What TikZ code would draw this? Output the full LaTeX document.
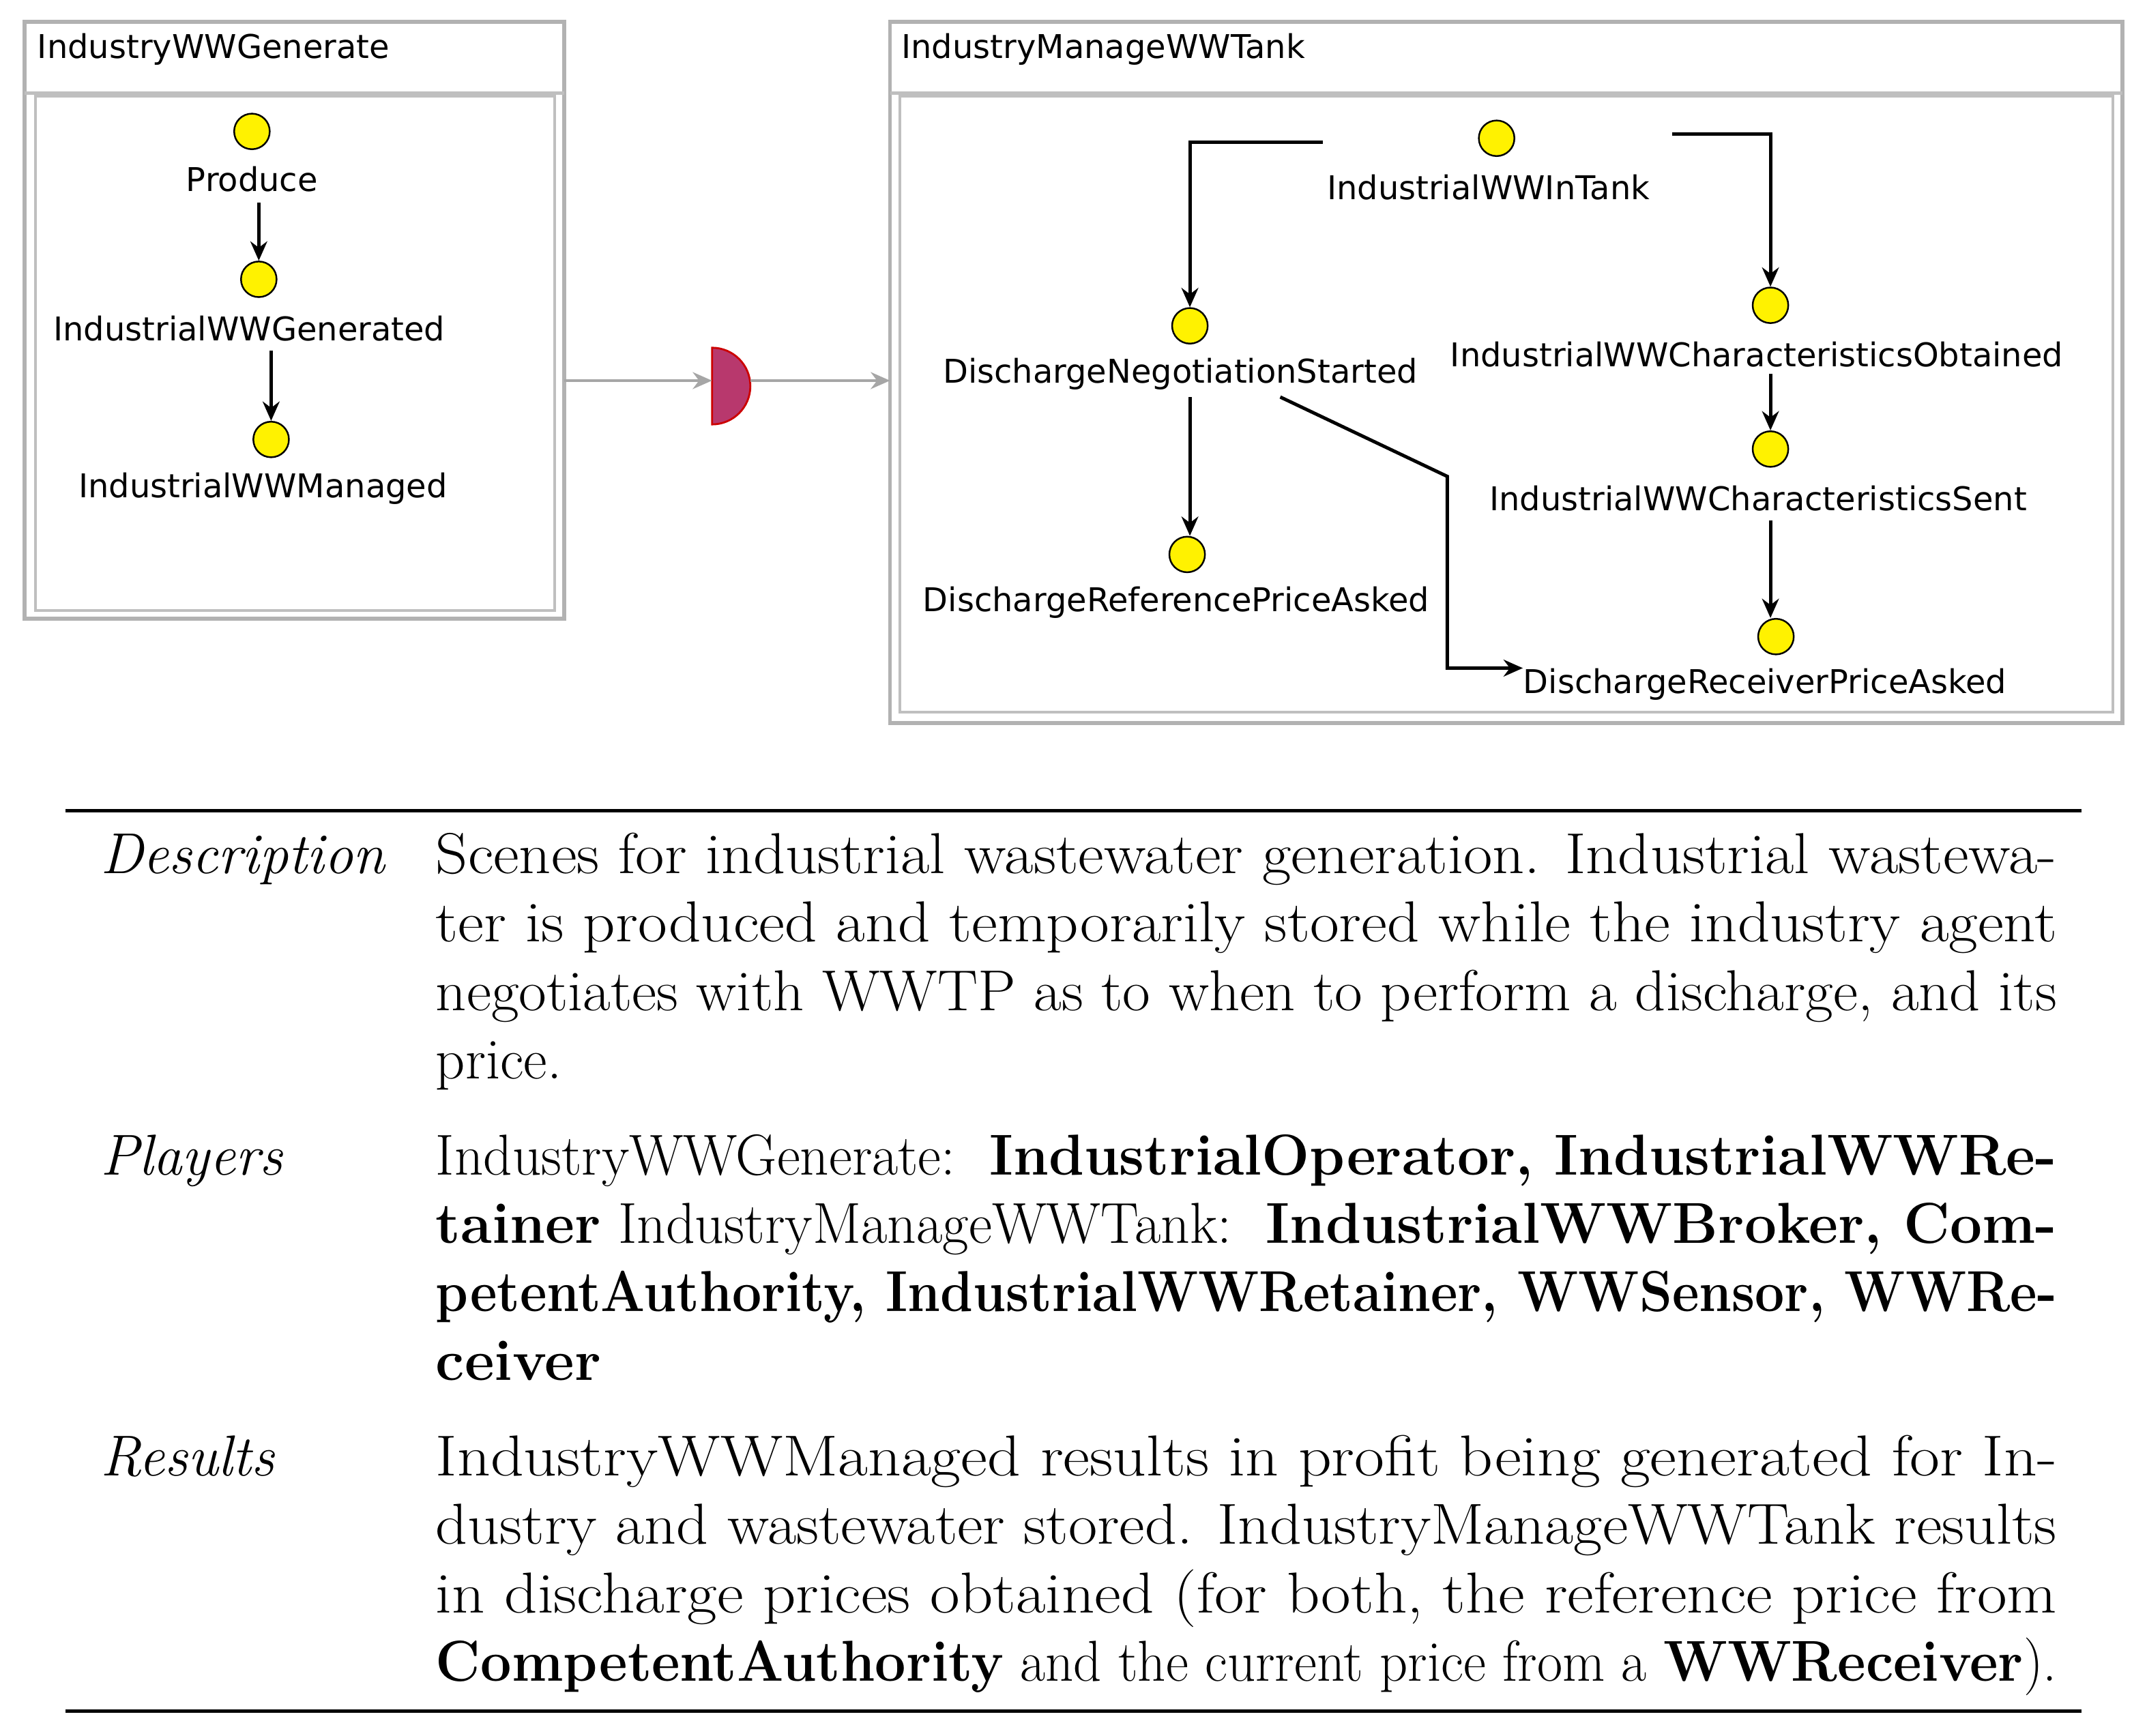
\documentclass[tikz,border=0pt]{standalone}
\usepackage{fontspec}
\usepackage{graphicx}
\newfontfamily\diag{DejaVu Sans}
\usetikzlibrary{arrows.meta}
\begin{document}
\begin{tikzpicture}[x=0.02cm,y=-0.02cm,
 box/.style={draw=black!30,line width=1.6pt},
 ibox/.style={draw=black!25,line width=1.2pt},
 st/.style={circle,draw=black,fill=yellow,minimum size=0.52cm,inner sep=0pt,line width=0.7pt},
 lb/.style={font=\diag\fontsize{13.6}{15}\selectfont,inner sep=0pt},
 ar/.style={-{Stealth[length=8pt,width=7pt]},line width=1.4pt},
 ga/.style={-{Stealth[length=8pt,width=7pt]},draw=black!35,line width=1.3pt},
 tx/.style={anchor=base west,inner sep=0pt,font=\fontsize{24}{28}\selectfont},
 hd/.style={anchor=base west,inner sep=0pt,font=\fontsize{24}{28}\selectfont\itshape}]
\useasboundingbox (0,0) rectangle (1568,1268);
% left box
\draw[box] (18,16) rectangle (412,452);
\draw[ibox] (18,68) -- (412,68);
\draw[ibox] (26,70) rectangle (405,446);
\node[lb,anchor=west] at (27,36) {IndustryWWGenerate};
\node[st] (p) at (184,96) {};
\node[lb] (pl) at (184,131) {Produce};
\node[st] (g) at (189,204) {};
\node[lb] (gl) at (182,240) {IndustrialWWGenerated};
\node[st] (m) at (198,321) {};
\node[lb] (ml) at (192,357) {IndustrialWWManaged};
\coordinate (a1) at (189,148); \coordinate (a2) at (198,256);
\draw[ar] (a1) -- (a1|-g.north);
\draw[ar] (a2) -- (a2|-m.north);
% right box
\draw[box] (650,16) rectangle (1550,528);
\draw[ibox] (650,68) -- (1550,68);
\draw[ibox] (657,70) rectangle (1543,520);
\node[lb,anchor=west] at (658,36) {IndustryManageWWTank};
\node[st] (t) at (1093,101) {};
\node[lb] (tl) at (1087,137) {IndustrialWWInTank};
\node[st] (n) at (869,238) {};
\node[lb] (nl) at (862,273) {DischargeNegotiationStarted};
\node[st] (o) at (1293,223) {};
\node[lb] (ol) at (1283,259) {IndustrialWWCharacteristicsObtained};
\node[st] (s) at (1293,328) {};
\node[lb] (sl) at (1284,364) {IndustrialWWCharacteristicsSent};
\node[st] (r) at (867,405) {};
\node[lb] (rl) at (859,440) {DischargeReferencePriceAsked};
\node[st] (v) at (1297,465) {};
\node[lb] (vl) at (1289,500) {DischargeReceiverPriceAsked};
\coordinate (c1) at (966,104); \coordinate (c2) at (1221,98);
\coordinate (c3) at (1293,273); \coordinate (c4) at (1293,380);
\coordinate (c5) at (869,290); \coordinate (c6) at (935,290);
\coordinate (c7) at (1057,348); \coordinate (c8) at (1057,488);
\draw[ar] (c1) -| (n.north);
\draw[ar] (c2) -| (o.north);
\draw[ar] (c3) -- (s.north);
\draw[ar] (c4) -- (c4|-v.north);
\draw[ar] (c5) -- (c5|-r.north);
\draw[ar] (c6) -- (c7) -- (c8) -- (vl.west|-c8);
% connector
\coordinate (d) at (520,282);
\fill[fill=magenta!60!purple!80!black,draw=red!80!black,line width=0.8pt] (520,254) arc[start angle=90,end angle=-90,radius=0.56cm] -- cycle;
\coordinate (l1) at (412,278); \coordinate (l2) at (520,278);
\coordinate (l3) at (548,278); \coordinate (l4) at (650,278);
\draw[ga] (l1) -- (l2);
\draw[ga] (l3) -- (l4);
% table
\draw[line width=1.4pt] (48,592) -- (1520,592);
\draw[line width=1.4pt] (48,1250) -- (1520,1250);
\node[hd] at (73,638) {Description};
\def\L#1#2{\node[tx] at (318,#1) {\resizebox{23.68cm}{\height}{#2}};}
\def\R#1#2{\node[tx] at (318,#1) {#2};}
\L{638}{Scenes for industrial wastewater generation. Industrial wastewa-}
\L{688}{ter is produced and temporarily stored while the industry agent}
\L{738}{negotiates with WWTP as to when to perform a discharge, and its}
\R{788}{price.}
\node[hd] at (73,858) {Players};
\L{858}{IndustryWWGenerate:\ \ \textbf{IndustrialOperator,\ IndustrialWWRe-}}
\L{908}{\textbf{tainer} IndustryManageWWTank:\ \ \textbf{IndustrialWWBroker,\ Com-}}
\L{958}{\textbf{petentAuthority,\ IndustrialWWRetainer,\ WWSensor,\ WWRe-}}
\R{1008}{\textbf{ceiver}}
\node[hd] at (73,1078) {Results};
\L{1078}{IndustryWWManaged results in profit being generated for In-}
\L{1128}{dustry and wastewater stored. IndustryManageWWTank results}
\L{1178}{in discharge prices obtained (for both, the reference price from}
\L{1228}{\textbf{CompetentAuthority} and the current price from a \textbf{WWReceiver}).}
\end{tikzpicture}
\end{document}
